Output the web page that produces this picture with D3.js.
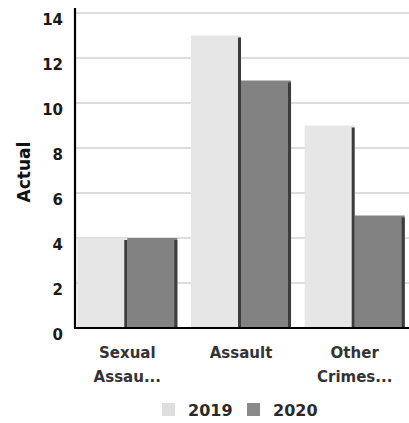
<!DOCTYPE html>
<html>
<head>
<meta charset="utf-8">
<script src="https://cdn.jsdelivr.net/npm/d3@7"></script>
<style>
  html, body { margin: 0; padding: 0; background: #fff; }
  svg { display: block; }
</style>
</head>
<body>
<svg id="chart" width="409" height="423"></svg>
<script>
// Incident counts by category, two reporting years
const categories = ["Sexual Assau...", "Assault", "Other Crimes..."];
const categoryLines = [["Sexual", "Assau..."], ["Assault"], ["Other", "Crimes..."]];
const seriesNames = ["2019", "2020"];
const values2019 = [4, 13, 9];
const values2020 = [4, 11, 5];
const yTicks = [0, 2, 4, 6, 8, 10, 12, 14];
const yLabel = "Actual";

const rows = categories.map((c, i) => ({ cat: c, lines: categoryLines[i], vals: [values2019[i], values2020[i]] }));

const W = 409, H = 423;
const plotLeft = 75, plotRight = 407, plotTop = 13, plotBottom = 328;
const fills = ["#e6e6e6", "#828282"];
const legendFills = ["#dedede", "#8a8a8a"];
const font = "'DejaVu Sans', Verdana, sans-serif";

const svg = d3.select("#chart");

const x = d3.scaleBand().domain(categories).range([plotLeft, plotRight]).paddingInner(0.12).paddingOuter(0.02);
const xs = d3.scaleBand().domain(seriesNames).range([0, x.bandwidth()]);
const y = d3.scaleLinear().domain([0, 14]).range([plotBottom, plotTop]);

// horizontal grid
svg.append("g")
  .selectAll("line")
  .data(yTicks.filter(t => t > 0))
  .join("line")
  .attr("x1", plotLeft).attr("x2", W)
  .attr("y1", d => y(d)).attr("y2", d => y(d))
  .attr("stroke", "#d2d2d2").attr("stroke-width", 1.5);

// bars with a darker right edge
const groups = svg.append("g").selectAll("g")
  .data(rows).join("g")
  .attr("transform", d => `translate(${x(d.cat)},0)`);

groups.selectAll("rect.bar")
  .data(d => d.vals.map((v, i) => ({ s: seriesNames[i], v, i })))
  .join("rect")
  .attr("class", "bar")
  .attr("x", d => xs(d.s))
  .attr("width", xs.bandwidth())
  .attr("y", d => y(d.v))
  .attr("height", d => plotBottom - y(d.v))
  .attr("fill", d => fills[d.i]);

groups.selectAll("rect.edge")
  .data(d => d.vals.map((v, i) => ({ s: seriesNames[i], v, i })))
  .join("rect")
  .attr("class", "edge")
  .attr("x", d => xs(d.s) + xs.bandwidth() - 3)
  .attr("width", 3)
  .attr("y", d => y(d.v) + 2)
  .attr("height", d => plotBottom - y(d.v) - 2)
  .attr("fill", "#3c3c3c");

// y axis
const yAxis = svg.append("g")
  .attr("transform", `translate(${plotLeft},0)`)
  .call(d3.axisLeft(y).tickValues(yTicks).tickSize(0).tickPadding(12));
yAxis.select(".domain").remove();
yAxis.selectAll("text")
  .attr("font-family", font).attr("font-size", 15).attr("font-weight", "bold")
  .attr("fill", "#1a1a1a").attr("dy", "0.75em");

// axis lines
svg.append("line").attr("x1", plotLeft).attr("x2", plotLeft).attr("y1", 8).attr("y2", plotBottom + 1)
  .attr("stroke", "#000").attr("stroke-width", 2.2);
svg.append("line").attr("x1", plotLeft - 1).attr("x2", W).attr("y1", plotBottom).attr("y2", plotBottom)
  .attr("stroke", "#000").attr("stroke-width", 2.2);

// category labels (wrapped)
const xl = svg.append("g").selectAll("text")
  .data(rows).join("text")
  .attr("text-anchor", "middle")
  .attr("font-family", font).attr("font-size", 15).attr("font-weight", "bold")
  .attr("fill", "#333")
  .attr("transform", d => `translate(${x(d.cat) + x.bandwidth() / 2},${plotBottom + 30})`);
xl.selectAll("tspan")
  .data(d => d.lines)
  .join("tspan")
  .attr("x", 0)
  .attr("y", (d, i) => i * 24)
  .text(d => d);

// y axis title
svg.append("text")
  .attr("transform", `translate(30,${172}) rotate(-90)`)
  .attr("text-anchor", "middle")
  .attr("font-family", font).attr("font-size", 17).attr("font-weight", "bold")
  .attr("fill", "#111")
  .text(yLabel);

// legend
const legend = svg.append("g").attr("transform", "translate(162,403)");
const legendX = [0, 85];
seriesNames.forEach((s, i) => {
  legend.append("rect").attr("x", legendX[i]).attr("y", 0).attr("width", 13).attr("height", 13)
    .attr("fill", legendFills[i]);
  legend.append("text").attr("x", legendX[i] + 26).attr("y", 12.5)
    .attr("font-family", font).attr("font-size", 16).attr("font-weight", "bold")
    .attr("fill", "#2a2a2a").text(s);
});
</script>
</body>
</html>
